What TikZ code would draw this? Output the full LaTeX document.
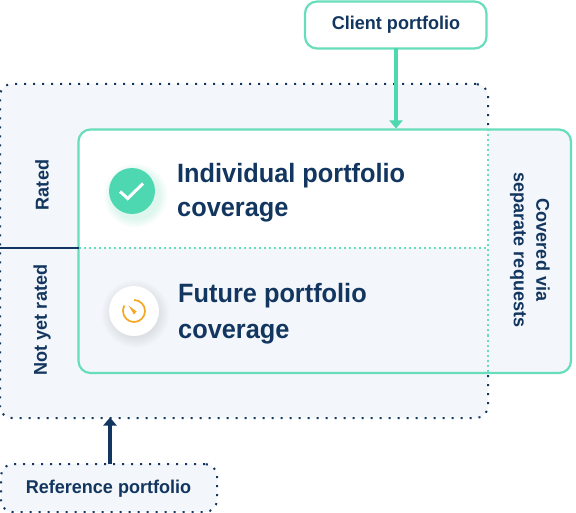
\documentclass[tikz,border=0pt]{standalone}
\usepackage{fontspec}
\setmainfont{Liberation Sans}
\newfontfamily\bigface[FakeStretch=0.956]{Liberation Sans}
\newfontfamily\smallface[FakeStretch=0.975]{Liberation Sans}
\usetikzlibrary{arrows.meta,calc}
\definecolor{navy}{HTML}{12365F}
\definecolor{mint}{HTML}{4ED8B1}
\definecolor{edgemint}{HTML}{68DDBB}
\definecolor{panel}{HTML}{F3F6FA}
\definecolor{amber}{HTML}{F5A623}
\tikzset{
  x=1pt,y=-1pt,
  dotbox/.style={draw=navy,fill=panel,line width=2pt,dash pattern=on 2pt off 7pt,rounded corners=12pt,inner sep=0pt,outer sep=0pt,anchor=north west},
  mintbox/.style={draw=edgemint,line width=2.2pt,rounded corners=12pt,inner sep=0pt,outer sep=0pt,anchor=north west},
  small/.style={text=navy,font=\smallface\fontsize{18.5}{22}\selectfont\bfseries,inner sep=0pt},
  big/.style={text=navy,font=\bigface\fontsize{26.5}{35}\selectfont\bfseries,inner sep=0pt,anchor=base west},
  sidelabel/.style={small,rotate=90},
  flow/.style={line width=3.5pt,-{Triangle[length=8pt,width=13pt]}},
  mintdots/.style={draw=edgemint,line width=2pt,dash pattern=on 2pt off 3pt},
}
\begin{document}
\begin{tikzpicture}
\useasboundingbox (0,0) rectangle (576,513);
% outer reference area
\node[dotbox,minimum width=488pt,minimum height=334pt] (outer) at (0,84) {};
% client / reference boxes
\node[mintbox,fill=white,minimum width=181.5pt,minimum height=47pt] (client) at (305,1.5) {};
\node[small] at (396,25) {Client portfolio};
\node[dotbox,minimum width=216pt,minimum height=48pt] (ref) at (1,464) {};
\node[small] at (108.5,489) {Reference portfolio};
% inner area
\fill[panel,rounded corners=12pt] (78.5,129.5) rectangle (571,373);
\fill[white,rounded corners=12pt] (78.5,129.5) -- (488,129.5) -- (488,248) -- (78.5,248) -- cycle;
\fill[white] (78.5,160) rectangle (488,248);
\fill[white] (300,129.5) rectangle (488,160);
\node[mintbox,minimum width=492.5pt,minimum height=243.5pt] (inner) at (78.5,129.5) {};
\coordinate (divL) at (78.5,248);
\coordinate (divR) at (488,248);
\coordinate (edge) at (0,248);
\coordinate (splitT) at (488,129.5);
\coordinate (splitB) at (488,373);
\draw[mintdots] (divL) -- (divR);
\draw[mintdots] (splitT) -- (splitB);
\draw[navy,line width=2pt] (edge) -- (divL);
% arrows
\coordinate (clientFoot) at (396,48.5);
\coordinate (clientTip) at (396,128.5);
\coordinate (refHead) at (110,464);
\coordinate (refTip) at (110,417.5);
\draw[flow,mint] (clientFoot) -- (clientTip);
\draw[flow,navy] (refHead) -- (refTip);
% side labels
\node[sidelabel] at (42,185) {Rated};
\node[sidelabel] at (42,320) {Not yet rated};
\node[small,rotate=-90] at (543,250) {Covered via};
\node[small,rotate=-90] at (518,250) {separate requests};
% check icon
\foreach \r in {24,25,...,32}
  \fill[mint,opacity=.02] (135.5,195.5) circle (\r);
\node[circle,fill=mint,minimum size=46pt,inner sep=0pt] (check) at (132,191) {};
\draw[white,line width=3pt] (120,191.5) -- (127.7,198.5) -- (143,183.5);
% timer icon
\foreach \r in {24,25,...,34}
  \fill[navy,opacity=.006] (135.5,314) circle (\r);
\node[circle,fill=white,minimum size=50pt,inner sep=0pt] (timer) at (134,311) {};
\draw[amber,line width=1.7pt] (134,300) arc[start angle=-90,end angle=210,radius=11];
\fill[amber] (128.5,305.5) -- (136.5,311.5) -- (134,314.5) -- cycle;
% big text
\node[big] at (177,182.7) {Individual portfolio};
\node[big] at (177,217) {coverage};
\node[big] at (178,303) {Future portfolio};
\node[big] at (178,338) {coverage};
\end{tikzpicture}
\end{document}
